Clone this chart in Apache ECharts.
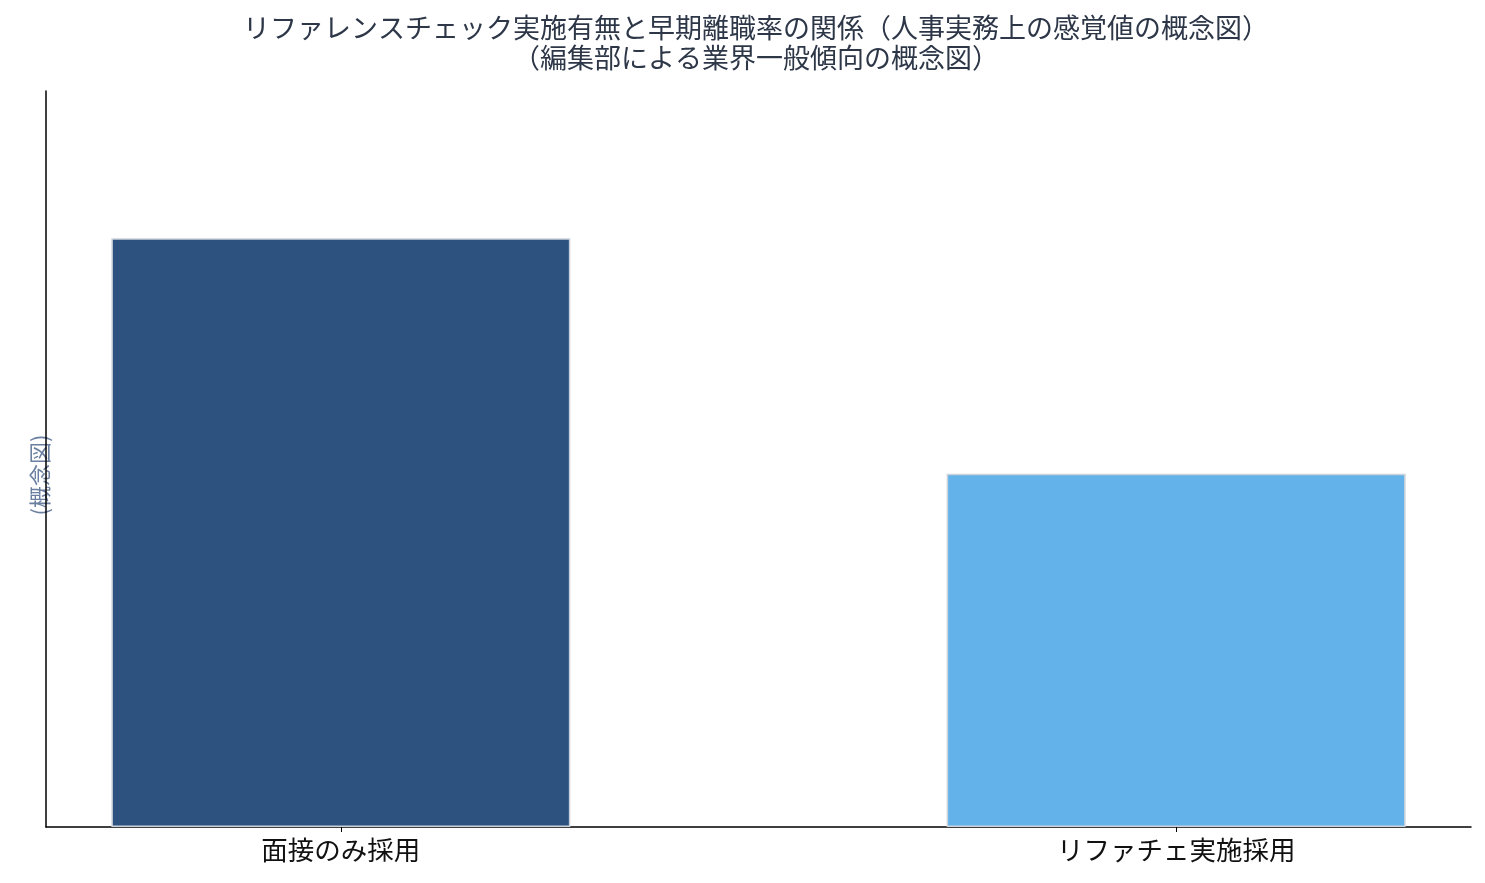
<!DOCTYPE html>
<html><head><meta charset="utf-8">
<script src="https://cdn.jsdelivr.net/npm/echarts@6/dist/echarts.min.js"></script>
<style>html,body{margin:0;padding:0;background:#fff}#c{width:1485px;height:883px}</style>
</head><body><div id="c"></div>
<script>
const categories = ['面接のみ採用', 'リファチェ実施採用'];
const values = [25, 15];
const barColors = ['#2D5280', '#63B3EA'];
const titleLines = ['リファレンスチェック実施有無と早期離職率の関係（人事実務上の感覚値の概念図）', '（編集部による業界一般傾向の概念図）'];
const yName = '(概念図)';

const chart = echarts.init(document.getElementById('c'));
const font = '"Noto Sans CJK JP", "Noto Sans", sans-serif';
chart.setOption({
  animation: false,
  title: {
    text: titleLines.join('\n'),
    left: 751, top: 8, textAlign: 'center',
    textStyle: { fontFamily: font, fontSize: 27, fontWeight: 'normal', color: '#2D3748', lineHeight: 30 }
  },
  grid: { left: 46, right: 14, top: 91, bottom: 56 },
  xAxis: {
    type: 'value', min: -0.353, max: 1.353,
    axisLine: { show: true, onZero: false, lineStyle: { color: '#000', width: 1.5 } },
    axisTick: { show: true, customValues: [0, 1], length: 5, lineStyle: { color: '#000', width: 1 } },
    axisLabel: { customValues: [0, 1], formatter: v => categories[Math.round(v)], fontFamily: font, fontSize: 26.5, color: '#111', margin: 10 },
    splitLine: { show: false }
  },
  yAxis: {
    type: 'value', min: 0, max: 31.25,
    name: yName, nameLocation: 'middle', nameGap: -5, nameRotate: 90,
    nameTextStyle: { fontFamily: font, fontSize: 22, color: '#6B7FA0', padding: [0, 32, 0, 0] },
    axisLine: { show: true, onZero: false, lineStyle: { color: '#000', width: 1.5 } },
    axisTick: { show: false }, axisLabel: { show: false }, splitLine: { show: false }
  },
  series: [{
    type: 'bar', barWidth: 459,
    data: values.map((v, i) => ({ value: [i, v], itemStyle: { color: barColors[i] } })),
    itemStyle: { borderColor: '#CCD2DA', borderWidth: 1.5 }
  }]
});
</script></body></html>
